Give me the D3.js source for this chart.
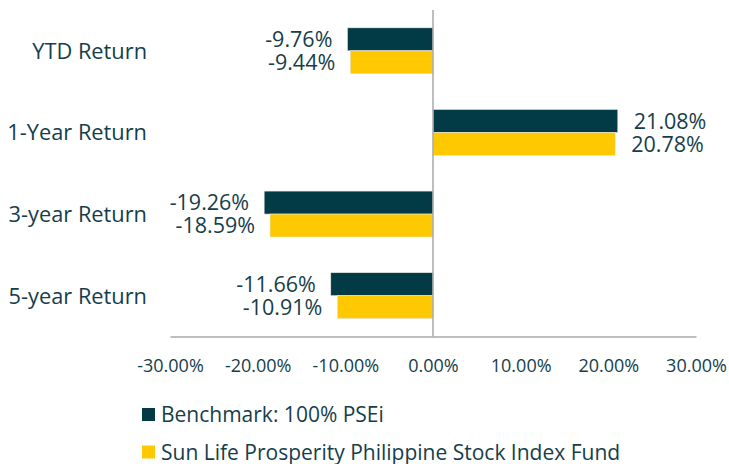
<!DOCTYPE html>
<html>
<head>
<meta charset="utf-8">
<script src="https://cdn.jsdelivr.net/npm/d3@7"></script>
<style>
  html, body { margin: 0; padding: 0; background: #fff; }
  svg { display: block; font-family: "Open Sans", "Noto Sans", sans-serif; }
</style>
</head>
<body>
<svg id="chart" width="729" height="464"></svg>
<script>
// Period returns, in percent
const categories = ["YTD Return", "1-Year Return", "3-year Return", "5-year Return"];
const seriesNames = ["Benchmark: 100% PSEi", "Sun Life Prosperity Philippine Stock Index Fund"];
const benchmarkValues = [-9.76, 21.08, -19.26, -11.66];
const fundValues = [-9.44, 20.78, -18.59, -10.91];
const xTickValues = [-30, -20, -10, 0, 10, 20, 30];

const colors = ["#023a46", "#fec900"];
const textColor = "#153e4b";
const axisColor = "#a9a9a9";

const svg = d3.select("#chart");
const plot = { left: 170, right: 696, top: 10, bottom: 336.5 };

const pct = v => v.toFixed(2) + "%";

const x = d3.scaleLinear().domain([-30, 30]).range([plot.left, plot.right]);
const y = d3.scaleBand().domain(categories)
  .range([plot.top, plot.bottom])
  .paddingInner(0.437).paddingOuter(0.2185);
const ySub = d3.scaleBand().domain([0, 1]).range([0, y.bandwidth()]);

const rows = categories.map((c, i) => ({
  category: c,
  values: [benchmarkValues[i], fundValues[i]]
}));

// Bars
const groups = svg.append("g").selectAll("g").data(rows).join("g")
  .attr("transform", d => `translate(0,${y(d.category)})`);

groups.selectAll("rect").data(d => d.values.map((v, s) => ({ v, s }))).join("rect")
  .attr("x", d => x(Math.min(0, d.v)))
  .attr("y", d => ySub(d.s))
  .attr("width", d => Math.abs(x(d.v) - x(0)))
  .attr("height", ySub.bandwidth())
  .attr("fill", d => colors[d.s])
  .attr("stroke", "#e6e6e6")
  .attr("stroke-width", 0.6);

// Value labels at the bar ends
groups.selectAll("text").data(d => d.values.map((v, s) => ({ v, s }))).join("text")
  .attr("x", d => d.v < 0 ? x(d.v) - 15 : x(d.v) + 16)
  .attr("y", d => ySub(d.s) + ySub.bandwidth() / 2)
  .attr("dy", "0.36em")
  .attr("text-anchor", d => d.v < 0 ? "end" : "start")
  .attr("fill", textColor)
  .style("font-size", "21.5px")
  .text(d => pct(d.v));

// Category axis
const yAxis = svg.append("g")
  .attr("transform", `translate(${plot.left},0)`)
  .call(d3.axisLeft(y).tickSize(0).tickPadding(23));
yAxis.select(".domain").remove();
yAxis.selectAll("text")
  .attr("fill", textColor)
  .attr("dy", "0.36em")
  .style("font-size", "21.8px")
  .style("font-family", "\"Open Sans\", \"Noto Sans\", sans-serif");

// Value axis
const xAxis = svg.append("g")
  .attr("transform", `translate(0,${plot.bottom})`)
  .call(d3.axisBottom(x).tickValues(xTickValues).tickFormat(pct)
    .tickSize(0).tickSizeOuter(0).tickPadding(23));
xAxis.select(".domain").attr("stroke", axisColor).attr("stroke-width", 1.5);
xAxis.selectAll("text")
  .attr("fill", textColor)
  .style("font-size", "18px")
  .style("font-family", "\"Open Sans\", \"Noto Sans\", sans-serif");

// Zero line
svg.append("line")
  .attr("x1", x(0)).attr("x2", x(0))
  .attr("y1", plot.top).attr("y2", plot.bottom)
  .attr("stroke", axisColor).attr("stroke-width", 1.5);

// Legend
const legend = svg.append("g").selectAll("g").data(seriesNames).join("g")
  .attr("transform", (d, i) => `translate(142,${408 + i * 37.5})`);
legend.append("rect")
  .attr("width", 13).attr("height", 13)
  .attr("fill", (d, i) => colors[i]);
legend.append("text")
  .attr("x", 19).attr("y", 6.5).attr("dy", "0.36em")
  .attr("fill", textColor)
  .style("font-size", "21px")
  .text(d => d);
</script>
</body>
</html>
